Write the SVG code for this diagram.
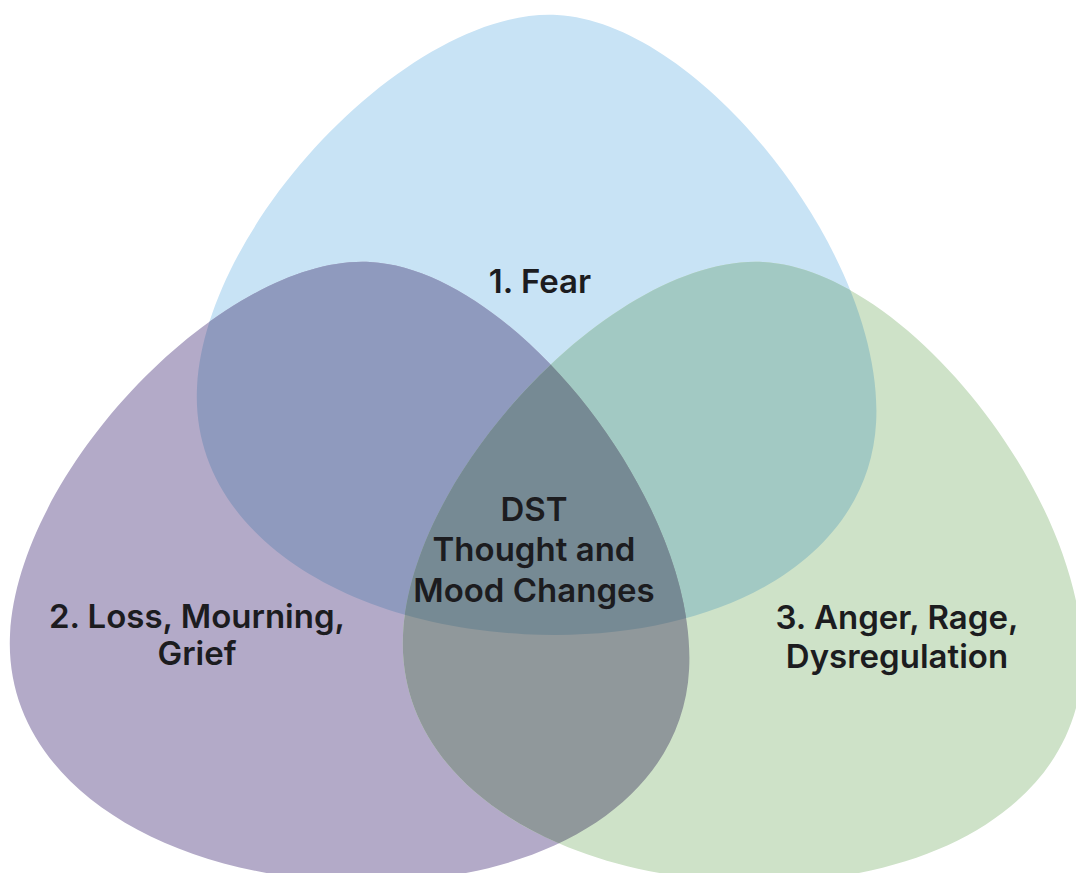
<svg xmlns="http://www.w3.org/2000/svg" xmlns:xlink="http://www.w3.org/1999/xlink" width="1076" height="873" viewBox="0 0 1076 873">
<style>
.lbl{font-family:Inter,"Noto Sans","Liberation Sans",sans-serif;font-weight:600;font-size:33px;fill:#1c1c1f;text-anchor:middle}
</style>
<defs>
<path id="egg" d="M0,0 C145,0 340,225 340,390 C340,530 190,620 0,620 C-190,620 -340,530 -340,390 C-340,225 -145,0 0,0 Z"/>
<clipPath id="cB"><use href="#egg" xlink:href="#egg" transform="translate(557,15) rotate(3)"/></clipPath>
<clipPath id="cP"><use href="#egg" xlink:href="#egg" transform="translate(370,262) rotate(3)"/></clipPath>
</defs>
<rect width="1076" height="873" fill="#ffffff"/>
<g id="fear-shape"><use href="#egg" xlink:href="#egg" transform="translate(557,15) rotate(3)" fill="#C8E3F5"/></g>
<g id="loss-shape"><use href="#egg" xlink:href="#egg" transform="translate(370,262) rotate(3)" fill="#B3AAC8"/></g>
<g id="anger-shape"><use href="#egg" xlink:href="#egg" transform="translate(763,262) rotate(3)" fill="#CEE2C8"/></g>
<g id="overlaps">
<g clip-path="url(#cB)"><use href="#egg" xlink:href="#egg" transform="translate(370,262) rotate(3)" fill="#8F9ABE"/></g>
<g clip-path="url(#cB)"><use href="#egg" xlink:href="#egg" transform="translate(763,262) rotate(3)" fill="#A2C9C3"/></g>
<g clip-path="url(#cP)"><use href="#egg" xlink:href="#egg" transform="translate(763,262) rotate(3)" fill="#90989B"/></g>
<g clip-path="url(#cB)"><g clip-path="url(#cP)"><use href="#egg" xlink:href="#egg" transform="translate(763,262) rotate(3)" fill="#768A94"/></g></g>
</g>
<g id="fear"><text class="lbl" x="540" y="293">1. Fear</text></g>
<g id="loss"><text class="lbl" x="197" y="628">2. Loss, Mourning,</text><text class="lbl" x="197" y="665">Grief</text></g>
<g id="anger"><text class="lbl" x="897" y="629">3. Anger, Rage,</text><text class="lbl" x="897" y="668">Dysregulation</text></g>
<g id="center"><text class="lbl" x="534" y="521">DST</text><text class="lbl" x="534" y="561">Thought and</text><text class="lbl" x="534" y="602">Mood Changes</text></g>
</svg>
